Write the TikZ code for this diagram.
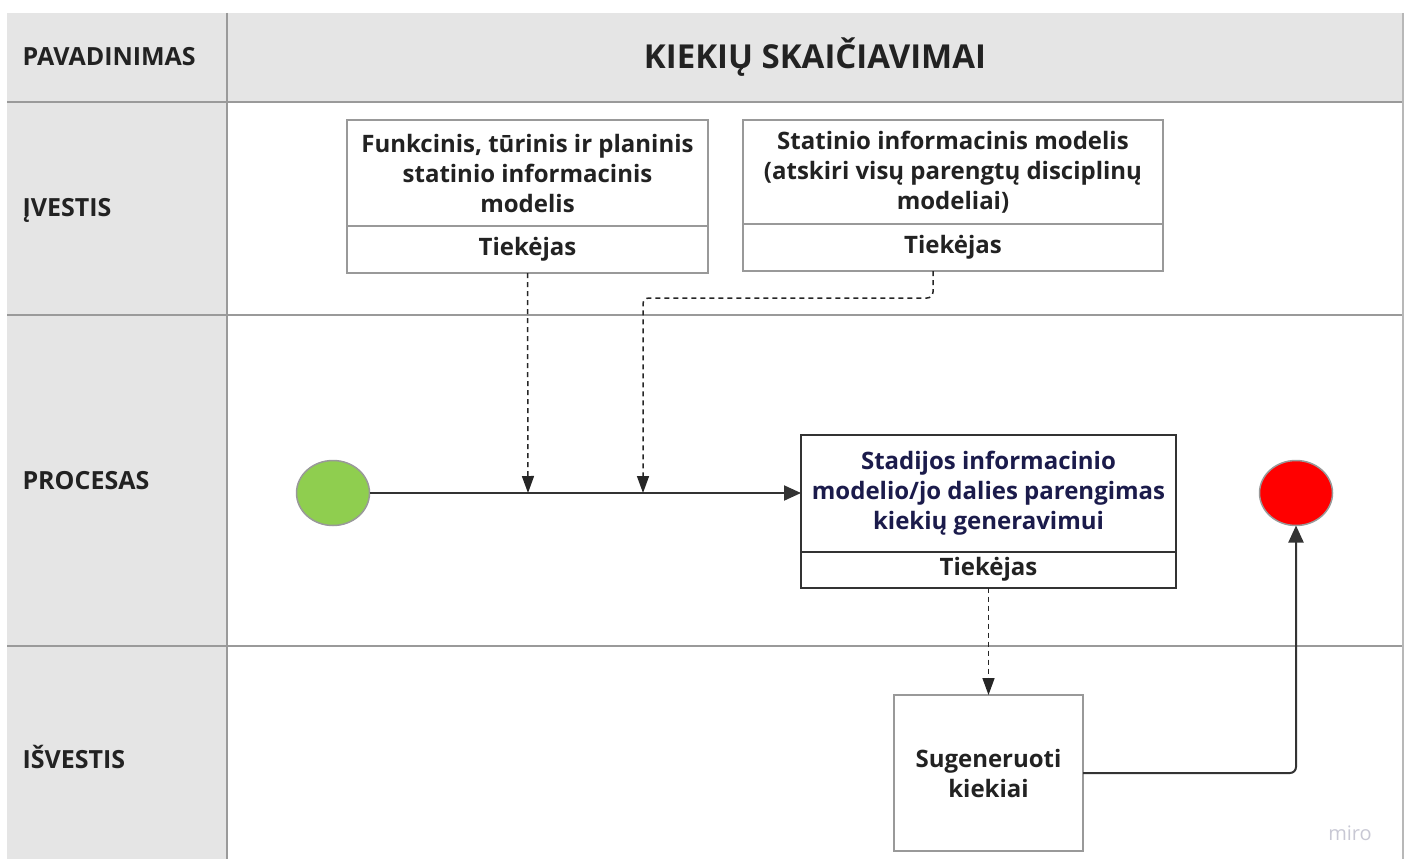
\documentclass[tikz,border=0pt]{standalone}
\usepackage{fontspec}
\setmainfont{Open Sans}
\usetikzlibrary{arrows.meta,shapes.geometric}
\definecolor{hdr}{HTML}{E5E5E5}
\definecolor{grid}{HTML}{9A9A9A}
\definecolor{boxline}{HTML}{999999}
\definecolor{txt}{HTML}{222222}
\definecolor{navy}{HTML}{1B1B4B}
\definecolor{startg}{HTML}{8FCE4F}
\definecolor{endr}{HTML}{FF0000}
\definecolor{miroc}{HTML}{C8C8D4}
\tikzset{
  lbl/.style={anchor=west,font=\fontsize{25}{30}\selectfont\bfseries,text=txt},
  boxtxt/.style={draw=boxline,line width=1.6pt,fill=white,align=center,inner sep=0pt,outer sep=0pt,
    font=\fontsize{24}{30}\selectfont\bfseries,text=txt},
  procbox/.style={draw=black!80,line width=2pt,fill=white,align=center,inner sep=0pt,outer sep=0pt,
    font=\fontsize{24}{30}\selectfont\bfseries},
  evt/.style={ellipse,draw=gray!80,line width=1.5pt,minimum width=73pt,minimum height=65pt,inner sep=0pt,outer sep=0pt},
  flow/.style={draw=black!80,line width=2pt,-{Triangle[length=17pt,width=15pt]},rounded corners=6pt},
  dflow/.style={draw=black!85,line width=1.5pt,dash pattern=on 5pt off 4pt,-{Triangle[length=17pt,width=12pt]},rounded corners=6pt},
}
\begin{document}
\begin{tikzpicture}[x=1pt,y=-1pt]
\useasboundingbox (0,0) rectangle (1410,859);
% table
\fill[hdr] (7,13) rectangle (1403,102);
\fill[hdr] (7,102) rectangle (227,859);
\draw[grid,line width=1.6pt] (7,102) -- (1403,102);
\draw[grid,line width=1.6pt] (7,315) -- (1403,315);
\draw[grid,line width=1.6pt] (7,646) -- (1403,646);
\draw[grid,line width=1.6pt] (227,13) -- (227,859);
\draw[grid!70,line width=1.2pt] (1403,13) -- (1403,859);
% labels
\node[lbl] (lpav) at (19,57) {PAVADINIMAS};
\node[lbl] (lin) at (19,210) {ĮVESTIS};
\node[lbl] (lproc) at (19,481) {PROCESAS};
\node[lbl] (lout) at (19,757) {IŠVESTIS};
\node[font=\fontsize{33}{38}\selectfont\bfseries,text=txt] (title) at (815,57) {KIEKIŲ SKAIČIAVIMAI};
% input box 1
\node[boxtxt,minimum width=361pt,minimum height=106pt] (b1) at (527.5,173) {Funkcinis, tūrinis ir planinis\\statinio informacinis\\modelis};
\node[boxtxt,minimum width=361pt,minimum height=47pt,anchor=north] (b1s) at (b1.south) {Tiekėjas};
% input box 2
\node[boxtxt,minimum width=420pt,minimum height=104pt] (b2) at (953,172) {Statinio informacinis modelis\\(atskiri visų parengtų disciplinų\\modeliai)};
\node[boxtxt,minimum width=420pt,minimum height=47pt,anchor=north] (b2s) at (b2.south) {Tiekėjas};
% process box
\node[procbox,text=navy,minimum width=375pt,minimum height=117pt] (p) at (988.5,493) {Stadijos informacinio\\modelio/jo dalies parengimas\\kiekių generavimui};
\node[procbox,text=txt,minimum width=375pt,minimum height=36pt,anchor=north] (ps) at (p.south) {Tiekėjas};
% output box
\node[boxtxt,minimum width=189pt,minimum height=156pt] (o) at (988.5,773) {Sugeneruoti\\kiekiai};
% events
\node[evt,fill=startg] (s) at (333,493) {};
\node[evt,fill=endr] (e) at (1296,493) {};
% connectors
\coordinate (j1) at (528,493);
\coordinate (j2) at (643,493);
\draw[flow] (s.east) -- (p.west);
\draw[dflow] (b1s.south) -- (j1);
\draw[dflow] (b2s.south -| 933,0) -- (933,298) -- (643,298) -- (j2);
\draw[dflow] (ps.south) -- (o.north);
\draw[flow] (o.east) -- (o.east -| e.south) -- (e.south);
\node[font=\fontsize{20}{24}\selectfont,text=miroc] (miro) at (1350,833) {miro};
\end{tikzpicture}
\end{document}
